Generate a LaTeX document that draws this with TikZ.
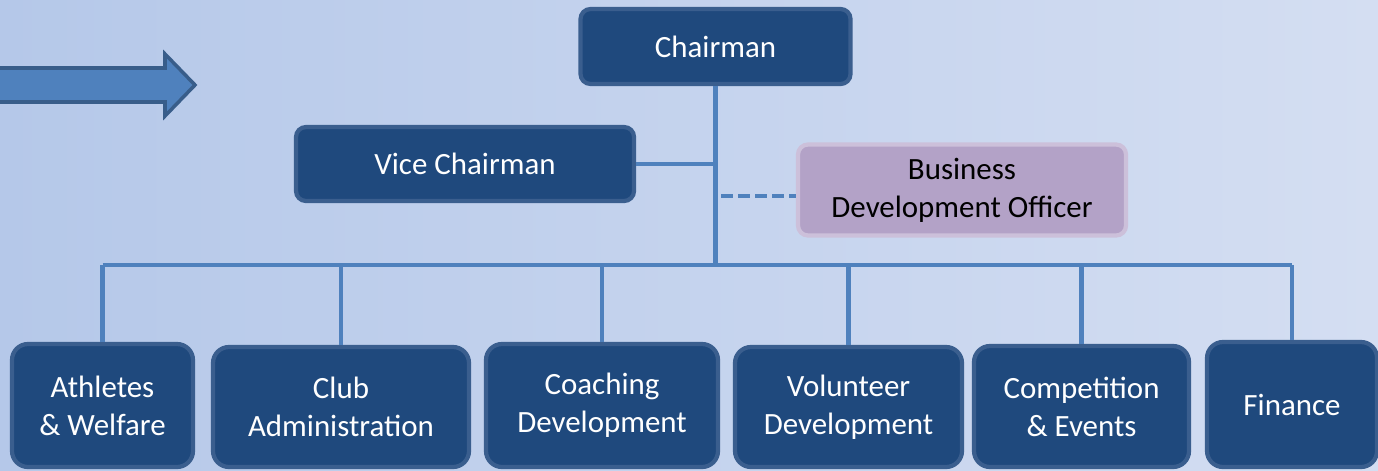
\documentclass[tikz,border=0pt]{standalone}
\usepackage{fontspec}
\setmainfont{Carlito}
\usepackage{tikz}
\usetikzlibrary{calc}
\usetikzlibrary{positioning}
\definecolor{navy}{HTML}{1F497D}
\definecolor{navyrim}{HTML}{3A5E8E}
\definecolor{linkblue}{HTML}{4F81BD}
\definecolor{arrowrim}{HTML}{385D8A}
\definecolor{lilac}{HTML}{B3A2C7}
\definecolor{lilacrim}{HTML}{CCC0DA}
\definecolor{bgleft}{HTML}{B5C8E9}
\definecolor{bgright}{HTML}{D4DEF2}
\tikzstyle{every node}=[font=\fontsize{8.8}{10.8}\selectfont]
\tikzstyle{post}=[draw=navyrim,fill=navy,text=white,line width=1.2pt,rounded corners=0.1cm,align=center,inner sep=0pt]
\tikzstyle{unit}=[post,rounded corners=0.16cm]
\tikzstyle{advisor}=[post,draw=lilacrim,fill=lilac,text=black]
\tikzstyle{link}=[draw=linkblue,line width=1.35pt]

\begin{document}
\begin{tikzpicture}

\useasboundingbox (0,0) rectangle (13.78,4.70);
\shade[left color=bgleft,right color=bgright] (0,0) rectangle (13.78,4.70);

\draw[fill=linkblue,draw=arrowrim,line width=1pt,line join=miter] (-0.1,4.02) -- (1.65,4.02) -- (1.65,4.16) -- (1.95,3.85) -- (1.65,3.54) -- (1.65,3.68) -- (-0.1,3.68) -- cycle;

\node[post,minimum width=2.70cm,minimum height=0.75cm] (chair) at (7.155,4.235) {Chairman};
\node[post,minimum width=3.38cm,minimum height=0.74cm] (vice) at (4.65,3.06) {Vice Chairman};
\node[advisor,minimum width=3.28cm,minimum height=0.91cm] (bdo) at (9.62,2.80) {Business\\Development Officer};

\node[unit,minimum width=1.81cm,minimum height=1.23cm] (ath) at (1.025,0.645) {Athletes\\\& Welfare};
\node[unit,minimum width=2.56cm,minimum height=1.20cm] (club) at (3.41,0.63) {Club\\Administration};
\node[unit,minimum width=2.32cm,minimum height=1.23cm] (coach) at (6.02,0.645) {Coaching\\Development};
\node[unit,minimum width=2.27cm,minimum height=1.20cm] (vol) at (8.485,0.63) {Volunteer\\Development};
\node[unit,minimum width=2.15cm,minimum height=1.21cm] (comp) at (10.815,0.635) {Competition\\\& Events};
\node[unit,minimum width=1.70cm,minimum height=1.25cm] (fin) at (12.92,0.655) {Finance};

\coordinate (hub) at (7.155,2.05);
\coordinate (tap) at (7.21,2.74);
\draw[link] (chair.south) -- (hub);
\draw[link] (vice.east) -- (vice.east -| hub);
\draw[link,dash pattern=on 0.12cm off 0.05cm] (tap) -- (tap -| bdo.west);
\draw[link] (ath.north |- hub) -- (fin.north |- hub);
\foreach \n in {ath,club,coach,vol,comp,fin}
  \draw[link] (\n.north |- hub) -- (\n.north);
\end{tikzpicture}
\end{document}
